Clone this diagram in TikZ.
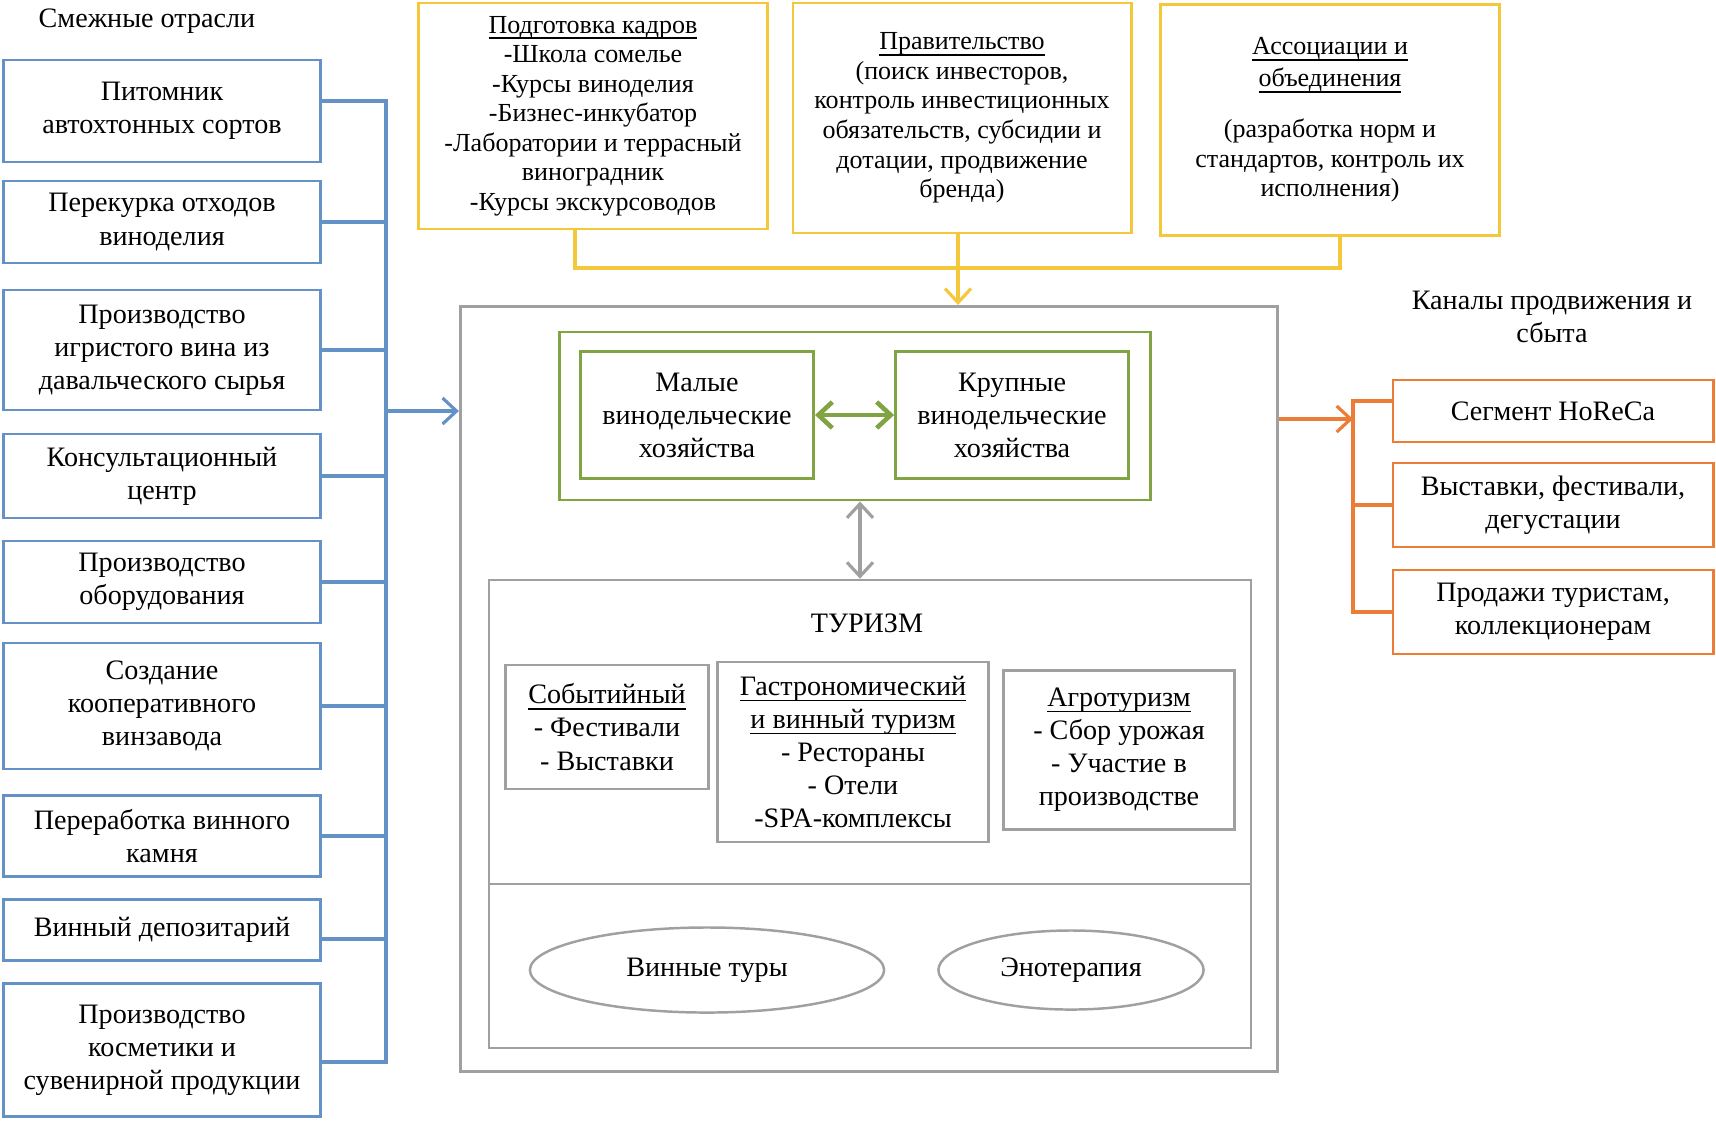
\documentclass[tikz,border=0pt]{standalone}
\usepackage{fontspec}
\setmainfont{Liberation Serif}
\usepackage{tikz}
\usetikzlibrary{arrows.meta, shapes.geometric}
\definecolor{sideblue}{RGB}{100,146,198}
\definecolor{govgold}{RGB}{245,200,60}
\definecolor{farmgreen}{RGB}{128,164,68}
\definecolor{saleorange}{RGB}{236,125,55}
\definecolor{hubgray}{RGB}{160,160,160}
\newcommand{\headline}[1]{\underline{\raisebox{0pt}[\height][0pt]{#1}}}

\begin{document}
\begin{tikzpicture}[x=0.01cm, y=-0.01cm,
  txt/.style={font=\fontsize{8}{9.4}\selectfont, align=center, inner sep=0pt},
  toptxt/.style={font=\fontsize{7.4}{8.4}\selectfont, align=center, inner sep=0pt},
  sidebox/.style={txt, draw=sideblue, line width=0.8pt, minimum width=3.17cm},
  topbox/.style={toptxt, draw=govgold, line width=0.8pt},
  farmbox/.style={txt, draw=farmgreen, line width=0.8pt, minimum width=2.33cm, minimum height=1.27cm},
  tourbox/.style={txt, draw=hubgray, line width=0.7pt},
  salebox/.style={txt, draw=saleorange, line width=0.8pt, minimum width=3.2cm},
  conn/.style={line width=0.9pt},
  headtip/.style={-{Straight Barb[length=1.4mm,width=2.6mm]}},
  dblhead/.style={{Straight Barb[length=1.4mm,width=2.6mm]}-{Straight Barb[length=1.4mm,width=2.6mm]}},
  ]
\useasboundingbox (0,0) rectangle (1716,1120);

\node[txt, anchor=west] (relTitle) at (38,21) {Смежные отрасли};
\node[sidebox, minimum height=1.02cm] (s1) at (162,111) {Питомник\\автохтонных сортов};
\node[sidebox, minimum height=0.82cm] (s2) at (162,222) {Перекурка отходов\\виноделия};
\node[sidebox, minimum height=1.20cm] (s3) at (162,350) {Производство\\игристого вина из\\давальческого сырья};
\node[sidebox, minimum height=0.84cm] (s4) at (162,476) {Консультационный\\центр};
\node[sidebox, minimum height=0.82cm] (s5) at (162,582) {Производство\\оборудования};
\node[sidebox, minimum height=1.26cm] (s6) at (162,706) {Создание\\кооперативного\\винзавода};
\node[sidebox, minimum height=0.81cm] (s7) at (162,836) {Переработка винного\\камня};
\node[sidebox, minimum height=0.61cm] (s8) at (162,930) {Винный депозитарий};
\node[sidebox, minimum height=1.33cm] (s9) at (162,1050) {Производство\\косметики и\\сувенирной продукции};

\node[topbox, minimum width=3.49cm, minimum height=2.26cm] (train) at (593,116) {\headline{Подготовка кадров}\\-Школа сомелье\\-Курсы виноделия\\-Бизнес-инкубатор\\-Лаборатории и террасный\\виноградник\\-Курсы экскурсоводов};
\node[topbox, minimum width=3.38cm, minimum height=2.30cm] (gov) at (962,118) {\headline{Правительство}\\(поиск инвесторов,\\контроль инвестиционных\\обязательств, субсидии и\\дотации, продвижение\\бренда)};
\node[topbox, minimum width=3.39cm, minimum height=2.31cm] (assoc) at (1330,120) {\headline{Ассоциации и}\\[0.7pt]\headline{объединения}\\[6pt](разработка норм и\\стандартов, контроль их\\исполнения)};

\node[draw=hubgray, line width=0.8pt, minimum width=8.17cm, minimum height=7.65cm] (hub) at (869,689) {};
\node[draw=farmgreen, line width=0.8pt, minimum width=5.91cm, minimum height=1.68cm] (farms) at (855,416) {};
\node[farmbox] (small) at (697,415) {Малые\\винодельческие\\хозяйства};
\node[farmbox] (large) at (1012,415) {Крупные\\винодельческие\\хозяйства};

\node[draw=hubgray, line width=0.7pt, minimum width=7.62cm, minimum height=4.68cm] (tour) at (870,814) {};
\coordinate (split) at (870,884);
\node[txt] (tourTitle) at (867,623) {ТУРИЗМ};
\node[tourbox, minimum width=2.03cm, minimum height=1.24cm] (event) at (607,727) {\headline{Событийный}\\- Фестивали\\- Выставки};
\node[tourbox, minimum width=2.71cm, minimum height=1.80cm] (gastro) at (853,752) {\headline{Гастрономический}\\\headline{и винный туризм}\\- Рестораны\\- Отели\\-SPA-комплексы};
\node[tourbox, minimum width=2.31cm, minimum height=1.59cm] (agro) at (1119,750) {\headline{Агротуризм}\\- Сбор урожая\\- Участие в\\производстве};
\node[ellipse, draw=hubgray, line width=0.7pt, minimum width=3.54cm, minimum height=0.85cm, txt] (winetour) at (707,970) {Винные туры};
\node[ellipse, draw=hubgray, line width=0.7pt, minimum width=2.65cm, minimum height=0.79cm, txt] (oeno) at (1071,970) {Энотерапия};

\node[txt] (saleTitle) at (1552,317) {Каналы продвижения и\\сбыта};
\node[salebox, minimum height=0.62cm] (o1) at (1553,411) {Сегмент HoReCa};
\node[salebox, minimum height=0.84cm] (o2) at (1553,505) {Выставки, фестивали,\\дегустации};
\node[salebox, minimum height=0.84cm] (o3) at (1553,612) {Продажи туристам,\\коллекционерам};

\coordinate (bbus) at (386,411);
\draw[conn, sideblue] ([yshift=0.1cm]s1.east) -- ([yshift=0.1cm]s1.east -| bbus) -- ([yshift=-0.12cm]s9.east -| bbus) -- ([yshift=-0.12cm]s9.east);
\foreach \n in {s2,s3,s4,s5,s6,s7}
  \draw[conn, sideblue] (\n.east) -- (\n.east -| bbus);
\draw[conn, sideblue] ([yshift=-0.09cm]s8.east) -- ([yshift=-0.09cm]s8.east -| bbus);
\draw[conn, sideblue, headtip] (bbus) -- (bbus -| hub.west);

\coordinate (ybar) at (962,268);
\draw[conn, govgold] ([xshift=-0.18cm]train.south) -- ([xshift=-0.18cm]train.south |- ybar) -- ([xshift=0.1cm]assoc.south |- ybar) -- ([xshift=0.1cm]assoc.south);
\draw[conn, govgold, headtip] ([xshift=-0.04cm]gov.south) -- ([xshift=-0.04cm]gov.south |- hub.north);

\draw[conn, farmgreen, line width=1.3pt, dblhead] (small.east) -- (large.west);
\draw[conn, hubgray, dblhead] ([xshift=0.05cm]farms.south) -- ([xshift=0.05cm]farms.south |- tour.north);
\draw[hubgray, line width=0.7pt] (tour.west |- split) -- (tour.east |- split);

\coordinate (obus) at (1353,419);
\draw[conn, saleorange] ([yshift=0.1cm]o1.west) -- ([yshift=0.1cm]o1.west -| obus) -- (o3.west -| obus) -- (o3.west);
\draw[conn, saleorange] (o2.west) -- (o2.west -| obus);
\draw[conn, saleorange, headtip] (obus -| hub.east) -- (obus);
\end{tikzpicture}
\end{document}
